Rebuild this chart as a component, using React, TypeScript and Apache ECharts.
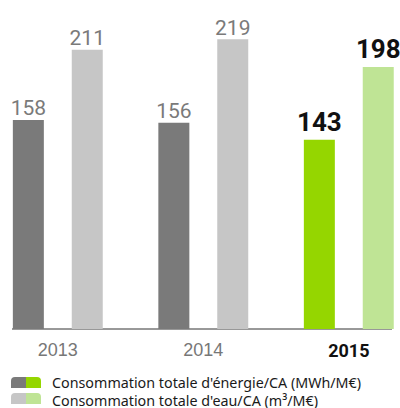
import React, { useEffect, useRef } from "react";
import * as echarts from "echarts";

const years = ["2013", "2014", "2015"];
const energy = [158, 156, 143];
const water = [211, 219, 198];
const energyColors = ["#7a7a7a", "#7a7a7a", "#95d600"];
const waterColors = ["#c6c6c6", "#c6c6c6", "#bfe495"];
const highlightIndex = 2;
const legendLabels = [
  "Consommation totale d'énergie/CA (MWh/M€)",
  "Consommation totale d'eau/CA (m³/M€)",
];

const NUM_FONT = "Roboto, 'Liberation Sans', sans-serif";

function barData(values: number[], colors: string[]) {
  return values.map((v, i) => {
    const hi = i === highlightIndex;
    return {
      value: [i, v],
      itemStyle: { color: colors[i] },
      label: hi
        ? { fontSize: 26, fontWeight: "bold", color: "#111", distance: 5 }
        : { fontSize: 21, fontWeight: "normal", color: "#7a7a7a", distance: 1 },
    };
  });
}

export default function App() {
  const ref = useRef<HTMLDivElement>(null);
  useEffect(() => {
    if (!ref.current) return;
    const chart = echarts.init(ref.current, null, { renderer: "svg" });
    const legendGraphic: any[] = [];
    const iconColors = [
      [energyColors[0], energyColors[2]],
      [waterColors[0], waterColors[2]],
    ];
    const rowsY = [377, 393];
    const textY = [382, 400];
    legendLabels.forEach((t, i) => {
      const y = rowsY[i];
      legendGraphic.push({
        type: "rect",
        shape: { x: 11, y, width: 15, height: 11, r: [4, 0, 0, 0] },
        style: { fill: iconColors[i][0] },
      });
      legendGraphic.push({
        type: "rect",
        shape: { x: 26, y, width: 15, height: 11, r: [0, 4, 0, 0] },
        style: { fill: iconColors[i][1] },
      });
      legendGraphic.push({
        type: "text",
        x: 52,
        y: textY[i],
        style: {
          text: t,
          fill: "#1a1a1a",
          font: "14.3px 'Noto Sans', sans-serif",
          lineHeight: 15,
          textVerticalAlign: "middle",
        },
      });
    });
    const step = 145.5; // px per category
    const firstCenter = 57.8;
    const xMin = -firstCenter / step;
    const xMax = xMin + 400 / step;
    chart.setOption({
      animation: false,
      grid: { left: 0, right: 0, top: 11.5, bottom: 79 },
      xAxis: {
        type: "value",
        min: xMin,
        max: xMax,
        splitLine: { show: false },
        axisLine: { show: false },
        axisTick: { show: false },
        axisLabel: {
          margin: 12,
          customValues: years.map((_, i) => i),
          showMinLabel: true,
          showMaxLabel: true,
          formatter: (v: number) => {
            const i = Math.round(v);
            return i === highlightIndex ? `{b|${years[i]}}` : `{n|${years[i]}}`;
          },
          rich: {
            n: { fontSize: 18, color: "#777", fontFamily: "'Liberation Sans', sans-serif" },
            b: { fontSize: 18, color: "#111", fontWeight: "bold", fontFamily: NUM_FONT },
          },
        },
      },
      yAxis: { type: "value", min: 0, max: 240, show: false },
      series: [
        {
          type: "bar",
          data: barData(energy, energyColors),
          barWidth: 31,
          barGap: "90%",
          label: { show: true, position: "top", fontFamily: NUM_FONT },
        },
        {
          type: "bar",
          data: barData(water, waterColors),
          barWidth: 31,
          barGap: "90%",
          label: { show: true, position: "top", fontFamily: NUM_FONT },
        },
      ],
      graphic: [
        {
          type: "line",
          shape: { x1: 12, y1: 329, x2: 392, y2: 329 },
          style: { stroke: "#333", lineWidth: 1 },
        },
        ...legendGraphic,
      ],
    });
    return () => chart.dispose();
  }, []);
  return (
    <div
      ref={ref}
      style={{ position: "fixed", left: 0, top: 0, width: 400, height: 408, background: "#fff" }}
    />
  );
}
